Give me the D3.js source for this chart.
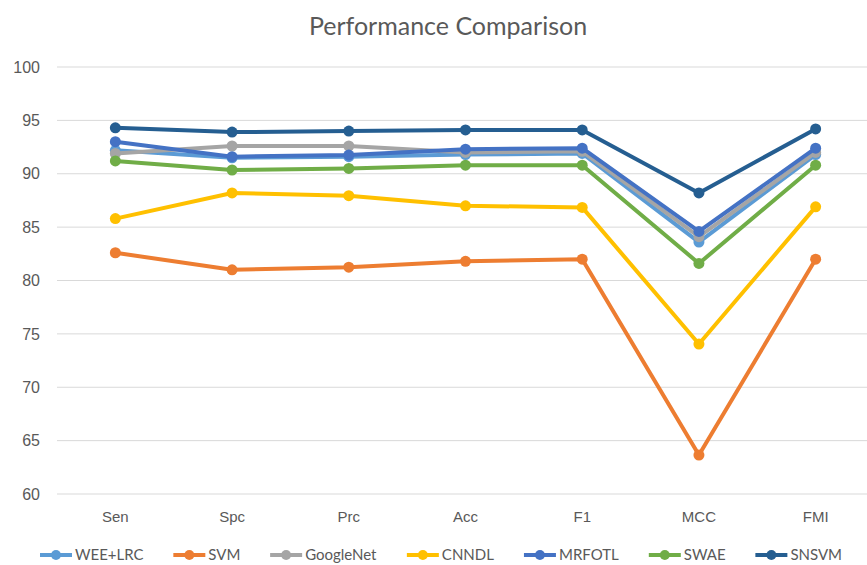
<!DOCTYPE html>
<html>
<head>
<meta charset="utf-8">
<script src="https://cdn.jsdelivr.net/npm/d3@7"></script>
<style>
  html, body { margin: 0; padding: 0; background: #fff; }
  svg { display: block; font-family: Lato, "Open Sans", sans-serif; }
</style>
</head>
<body>
<svg id="chart" width="867" height="565"></svg>
<script>
// Metrics along the x axis
const metrics = ["Sen", "Spc", "Prc", "Acc", "F1", "MCC", "FMI"];

// Method names in legend order
const methods = ["WEE+LRC", "SVM", "GoogleNet", "CNNDL", "MRFOTL", "SWAE", "SNSVM"];

// Score per metric for each method
const weeLrc    = [92.2, 91.5, 91.6, 91.8, 91.9, 83.6, 91.8];
const svm       = [82.6, 81.0, 81.25, 81.8, 82.0, 63.65, 82.0];
const googleNet = [91.9, 92.6, 92.6, 92.0, 92.1, 84.1, 92.0];
const cnndl     = [85.8, 88.2, 87.95, 87.0, 86.85, 74.05, 86.9];
const mrfotl    = [93.0, 91.6, 91.75, 92.3, 92.4, 84.6, 92.4];
const swae      = [91.2, 90.35, 90.5, 90.8, 90.8, 81.6, 90.8];
const snsvm     = [94.3, 93.9, 94.0, 94.1, 94.1, 88.2, 94.2];

// Y axis ticks
const yTicks = [60, 65, 70, 75, 80, 85, 90, 95, 100];

const colors = ["#5B9BD5", "#ED7D31", "#A5A5A5", "#FFC000", "#4472C4", "#70AD47", "#255E91"];
const seriesValues = [weeLrc, svm, googleNet, cnndl, mrfotl, swae, snsvm];
const series = methods.map((name, i) => ({ name, color: colors[i], values: seriesValues[i] }));

const svg = d3.select("#chart");
const textColor = "#595959";

const x = d3.scaleBand().domain(metrics).range([57, 874]);
const y = d3.scaleLinear().domain([60, 100]).range([494, 67]);
const cx = d => x(d) + x.bandwidth() / 2;

// Title
svg.append("text")
  .attr("x", 448).attr("y", 35)
  .attr("text-anchor", "middle")
  .attr("fill", textColor)
  .attr("font-size", 25)
  .text("Performance Comparison");

// Horizontal gridlines
svg.append("g")
  .selectAll("line")
  .data(yTicks)
  .join("line")
  .attr("x1", 57).attr("x2", 874)
  .attr("y1", d => y(d)).attr("y2", d => y(d))
  .attr("stroke", "#d9d9d9").attr("stroke-width", 1);

// Y axis labels
const yAxis = d3.axisLeft(y).tickValues(yTicks).tickSize(0).tickPadding(0);
const gy = svg.append("g").attr("transform", "translate(40,0)").call(yAxis);
gy.select(".domain").remove();
gy.selectAll("text").attr("fill", textColor).attr("font-size", 16)
  .attr("font-family", null);

// X axis labels
const xAxis = d3.axisBottom(x).tickSize(0).tickPadding(0);
const gx = svg.append("g").attr("transform", "translate(0,511)").call(xAxis);
gx.select(".domain").remove();
gx.selectAll("text").attr("fill", textColor).attr("font-size", 15)
  .attr("font-family", null);

// Lines and markers
const line = d3.line().x((d, i) => cx(metrics[i])).y(d => y(d));
const sg = svg.append("g").selectAll("g").data(series).join("g");
sg.append("path")
  .attr("d", d => line(d.values))
  .attr("fill", "none")
  .attr("stroke", d => d.color)
  .attr("stroke-width", 4)
  .attr("stroke-linejoin", "round");
sg.selectAll("circle")
  .data(d => d.values.map((v, i) => ({ v, i, color: d.color })))
  .join("circle")
  .attr("cx", d => cx(metrics[d.i]))
  .attr("cy", d => y(d.v))
  .attr("r", 5.5)
  .attr("fill", d => d.color);

// Legend
const legend = svg.append("g").attr("transform", "translate(0,555)");
const items = legend.selectAll("g").data(series).join("g");
items.append("line")
  .attr("x1", 0).attr("x2", 32).attr("y1", 0).attr("y2", 0)
  .attr("stroke", d => d.color).attr("stroke-width", 4);
items.append("circle").attr("cx", 16).attr("cy", 0).attr("r", 5).attr("fill", d => d.color);
items.append("text")
  .attr("x", 35).attr("y", 5)
  .attr("fill", textColor).attr("font-size", 15)
  .text(d => d.name);
const widths = [];
items.each(function () { widths.push(this.getBBox().width); });
const span = 802;
const gap = (span - d3.sum(widths)) / (widths.length - 1);
let offset = 40;
items.attr("transform", (d, i) => {
  const t = `translate(${offset},0)`;
  offset += widths[i] + gap;
  return t;
});
</script>
</body>
</html>
